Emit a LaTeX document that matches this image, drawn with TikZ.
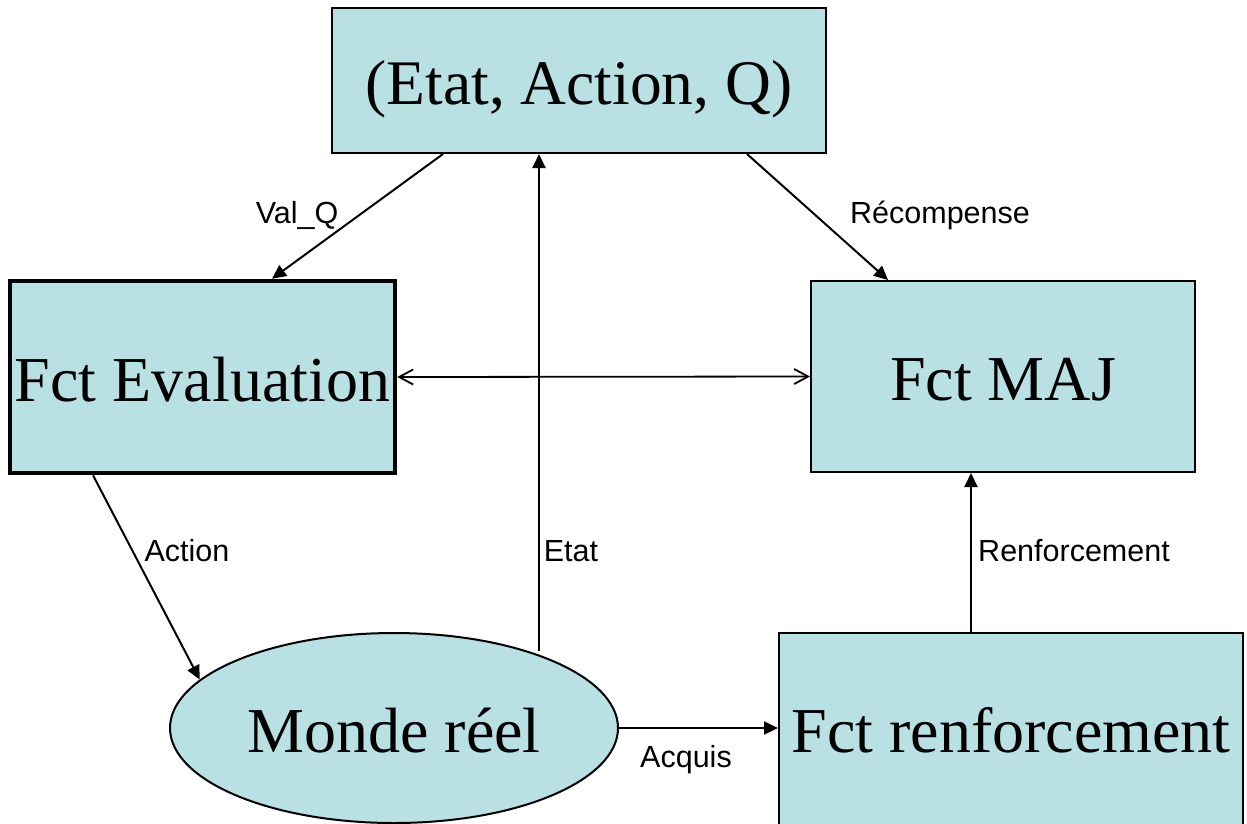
\documentclass[tikz,border=0pt]{standalone}
\usepackage{fontspec}
\setmainfont{Liberation Serif}
\newfontfamily\lblfont{Liberation Sans}
\usetikzlibrary{arrows.meta,shapes.geometric}
\definecolor{boxfill}{RGB}{185,224,227}
\tikzset{
  box/.style={draw=black, line width=2pt, fill=boxfill, rectangle, inner sep=0pt, font=\fontsize{64}{72}\selectfont, text height=48pt, text depth=0pt},
  lbl/.style={font=\lblfont\fontsize{30.5}{34}\selectfont, inner sep=0pt},
  conn/.style={line width=2pt, -{Triangle[length=14pt,width=13pt]}},
  dconn/.style={line width=1.8pt, {Straight Barb[length=14pt,width=15pt]}-{Straight Barb[length=14pt,width=15pt]}}
}
\begin{document}
\begin{tikzpicture}[x=1pt,y=-1pt]
\useasboundingbox (0,0) rectangle (1247,823);
\node[box, minimum width=494pt, minimum height=145pt, font=\fontsize{63.5}{72}\selectfont, text height=58pt, text depth=10.4pt] (top) at (579,80.5) {(Etat, Action, Q)};
\node[box, line width=4.5pt, minimum width=385pt, minimum height=192pt] (eval) at (202.5,377) {Fct Evaluation};
\node[box, minimum width=384pt, minimum height=191pt] (maj) at (1003,376.5) {Fct MAJ};
\node[box, minimum width=464pt, minimum height=200pt, text height=38pt] (renf) at (1011,733) {Fct renforcement};
\node[box, ellipse, minimum width=448pt, minimum height=190pt] (mr) at (394,728) {Monde réel};
\coordinate (etatS) at (539,651);
\coordinate (renfS) at (971,633);
\draw[conn] ([xshift=-136pt]top.south) -- ([xshift=69.5pt]eval.north);
\draw[conn] ([xshift=168pt]top.south) -- ([xshift=-115pt]maj.north);
\draw[dconn] (eval.east) -- (maj.west);
\draw[conn] ([xshift=-109.5pt]eval.south) -- (mr.166);
\draw[conn] (etatS) -- (etatS |- top.south);
\draw[conn] (mr.east) -- (mr.east -| renf.west);
\draw[conn] (renfS) -- (renfS |- maj.south);
\node[lbl] (lvq) at (297,215) {Val\_Q};
\node[lbl] (lrec) at (940,215) {Récompense};
\node[lbl] (lact) at (187,551) {Action};
\node[lbl] (letat) at (571,551) {Etat};
\node[lbl] (lrenf) at (1074,551) {Renforcement};
\node[lbl] (lacq) at (686,760) {Acquis};
\end{tikzpicture}
\end{document}
